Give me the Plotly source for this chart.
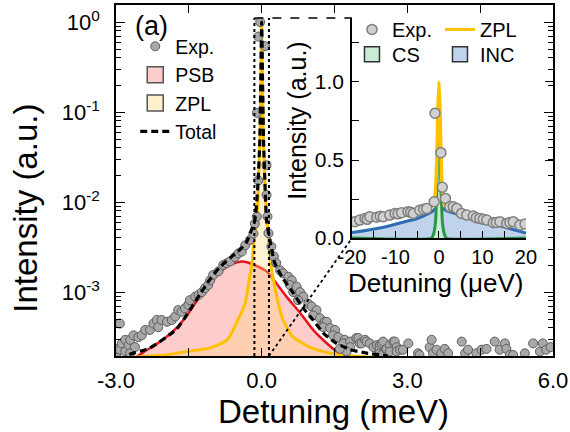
import plotly.graph_objects as go

# ---------------- main panel data (Detuning in meV, intensity a.u.) ----------------
psb_x = [-2.75, -2.44, -2.09, -1.72, -1.54, -1.34, -1.06, -0.73, -0.51, -0.38, -0.24,
         0.10, 0.27, 0.51, 0.79, 1.06, 1.34, 1.54, 1.75, 1.95]
psb_y = [1.66e-4, 2.14e-4, 2.82e-4, 4.17e-4, 5.5e-4, 7.9e-4, 1.26e-3, 1.9e-3, 2.14e-3, 2.19e-3, 2.09e-3,
         1.7e-3, 1.32e-3, 8.9e-4, 5.9e-4, 3.8e-4, 2.7e-4, 2.2e-4, 1.9e-4, 1.6e-4]

zpl_x = [-2.6, -2.0, -1.5, -1.06, -0.71, -0.49, -0.34, -0.28, -0.20, -0.16, -0.10, -0.06, -0.03, -0.015,
         0.0, 0.015, 0.03, 0.06, 0.11, 0.21, 0.34, 0.44, 0.64, 0.99, 1.34, 1.68, 2.2, 3.0, 4.5, 6.0]
zpl_y = [1.9e-4, 2.0e-4, 2.2e-4, 2.4e-4, 2.95e-4, 4.9e-4, 7.6e-4, 1.15e-3, 2.1e-3, 3.8e-3, 6.3e-3, 0.02, 0.07, 0.25,
         1.0, 0.25, 0.07, 0.02, 6.3e-3, 1.74e-3, 7.6e-4, 4.9e-4, 3.2e-4, 2.45e-4, 2.14e-4, 2.0e-4, 1.9e-4, 1.85e-4, 1.85e-4, 1.85e-4]

tot_x = [-2.9, -2.75, -2.30, -1.75, -1.48, -1.27, -1.06, -0.86, -0.65, -0.45, -0.31, -0.21, -0.14, -0.08, -0.04,
         -0.015, 0.0, 0.015, 0.04, 0.07, 0.10, 0.17, 0.27, 0.44, 0.65, 0.86, 1.06, 1.27, 1.54, 1.82, 2.16, 2.6]
tot_y = [1.7e-4, 2.0e-4, 2.4e-4, 3.9e-4, 6.3e-4, 9.5e-4, 1.4e-3, 1.9e-3, 2.4e-3, 2.95e-3, 3.6e-3, 4.9e-3, 6.3e-3, 0.015, 0.045,
         0.3, 1.0, 0.3, 0.045, 0.015, 6.3e-3, 3.8e-3, 2.1e-3, 1.41e-3, 9.8e-4, 6.6e-4, 4.9e-4, 3.5e-4, 2.7e-4, 2.3e-4, 2.1e-4, 1.95e-4]

exp_x = [-3.0, -2.98, -2.92, -2.92, -2.88, -2.81, -2.81, -2.74, -2.71, -2.71, -2.64, -2.61, -2.54, -2.47, -2.40,
         -2.30, -2.23, -2.16, -2.13, -2.06, -1.95, -1.85, -1.78, -1.72, -1.65, -1.58, -1.51, -1.48, -1.37, -1.30,
         -1.23, -1.17, -1.10, -1.06, -1.00, -0.89, -0.79, -0.72, -0.65, -0.55, -0.48, -0.41, -0.34, -0.24, -0.17,
         -0.14, -0.10, -0.10, -0.07, -0.07, -0.03, 0.07, 0.10, 0.10, 0.12,
         0.14, 0.20, 0.25, 0.30, 0.38, 0.44, 0.55, 0.62, 0.58, 0.65, 0.72, 0.79, 0.86, 0.75, 0.96, 1.03, 1.13,
         1.06, 1.20, 1.27, 1.30, 1.34, 1.27, 1.41, 1.51, 1.47, 1.58, 1.71, 1.68, 1.82, 1.82, 1.75, 1.61, 1.95,
         1.99, 2.02, 2.06, 2.13, 2.16, 2.23, 2.30, 2.37, 2.43, 2.43, 2.43, 2.47, 2.47, 2.50, 2.57, 2.57, 2.64,
         2.64, 2.71, 2.74, 2.78, 2.78, 2.85, 2.91, 3.02, 3.22, 3.25, 3.46, 3.50, 3.53, 3.60, 3.70, 3.77, 3.84,
         4.12, 4.19, 4.25, 4.42, 4.53, 4.63, 4.80, 4.90, 5.01, 5.04, 5.11, 5.18, 5.42, 5.59, 5.73, 5.79, 5.86, 5.95]
exp_y = [2.0e-4, 2.34e-4, 2.29e-4, 4.47e-4, 2.69e-4, 2.95e-4, 2.19e-4, 2.57e-4, 2.95e-4, 2.09e-4, 3.31e-4, 2.45e-4, 3.16e-4, 3.31e-4, 3.8e-4,
         3.8e-4, 4.47e-4, 4.9e-4, 4.07e-4, 4.9e-4, 4.68e-4, 4.9e-4, 5.37e-4, 6.31e-4, 6.03e-4, 6.61e-4, 7.24e-4, 8.13e-4, 8.91e-4, 9.33e-4,
         1.0e-3, 1.1e-3, 1.2e-3, 1.35e-3, 1.55e-3, 1.7e-3, 2.0e-3, 2.09e-3, 2.19e-3, 2.45e-3, 2.69e-3, 2.82e-3, 3.31e-3, 3.8e-3, 4.47e-3,
         5.75e-3, 6.9e-3, 0.098, 0.0174, 0.69, 1.0, 0.54, 0.012, 0.0257, 6.9e-3,
         4.5e-3, 3.2e-3, 2.5e-3, 2.1e-3, 1.74e-3, 1.62e-3, 1.48e-3, 1.35e-3, 1.2e-3, 1.0e-3, 1.15e-3, 1.0e-3, 8.91e-4, 8.13e-4, 7.41e-4, 6.92e-4, 6.31e-4,
         5.5e-4, 5.13e-4, 4.47e-4, 4.68e-4, 4.68e-4, 4.07e-4, 3.98e-4, 3.8e-4, 3.31e-4, 3.16e-4, 2.95e-4, 2.69e-4, 2.82e-4, 2.45e-4, 2.19e-4, 2.34e-4, 3.09e-4,
         3.09e-4, 2.69e-4, 2.69e-4, 2.95e-4, 2.82e-4, 2.69e-4, 2.45e-4, 2.57e-4, 2.57e-4, 2.29e-4, 2.09e-4, 2.69e-4, 2.0e-4, 2.82e-4, 2.29e-4, 2.34e-4, 2.57e-4,
         2.19e-4, 2.82e-4, 2.82e-4, 2.45e-4, 2.19e-4, 2.29e-4, 2.29e-4, 2.69e-4, 2.09e-4, 2.0e-4, 2.45e-4, 2.95e-4, 2.09e-4, 2.29e-4, 2.09e-4, 2.34e-4, 2.09e-4,
         2.82e-4, 2.09e-4, 2.29e-4, 2.09e-4, 2.29e-4, 2.34e-4, 2.82e-4, 2.29e-4, 2.69e-4, 2.34e-4, 2.0e-4, 2.0e-4, 2.09e-4, 2.69e-4, 2.19e-4, 2.69e-4, 2.29e-4, 2.45e-4]

# ---------------- inset data (Detuning in ueV) ----------------
ins_exp_x = [-19.3, -18.2, -17.0, -16.5, -15.9, -14.3, -13.5, -12.8, -11.3, -10.1, -9.4, -8.6, -7.1, -6.5, -5.9,
             -4.4, -3.5, -2.8, -1.1, -0.9, 0.45, 0.77, 1.5, 2.5, 3.3, 4.1, 5.2, 6.4, 7.9, 8.6, 9.4, 10.2,
             11.0, 12.5, 13.2, 14.0, 15.6, 16.3, 17.1, 18.6, 19.8]
ins_exp_y = [0.105, 0.115, 0.126, 0.12, 0.137, 0.133, 0.14, 0.137, 0.147, 0.158, 0.155, 0.162, 0.169, 0.165, 0.158,
             0.179, 0.185, 0.19, 0.233, 0.80, 0.547, 0.325, 0.254, 0.20, 0.2, 0.19, 0.158, 0.147, 0.141, 0.13, 0.126, 0.12,
             0.115, 0.098, 0.1, 0.105, 0.094, 0.1, 0.105, 0.083, 0.09]

ins_zpl_x = [-20, -13.6, -7.4, -5.0, -2.8, -1.2, -0.8, -0.5, -0.25, 0, 0.25, 0.5, 0.8, 1.2, 2.0, 4.8, 9.4, 14, 20]
ins_zpl_y = [0.088, 0.12, 0.15, 0.168, 0.19, 0.215, 0.3, 0.5, 0.82, 1.0, 0.82, 0.5, 0.3, 0.215, 0.205, 0.17, 0.13, 0.105, 0.08]

ins_inc_x = [-20, -13, -7.4, -5.0, -1.7, 0, 1.8, 4.8, 10, 14, 20]
ins_inc_y = [0.035, 0.068, 0.108, 0.125, 0.168, 0.2, 0.175, 0.15, 0.11, 0.078, 0.032]

ins_cs_x = [-20, -1.7, -1.2, -0.8, -0.5, -0.25, 0, 0.25, 0.5, 0.8, 1.2, 1.7, 20]
ins_cs_y = [0, 0, 0.03, 0.1, 0.3, 0.6, 0.78, 0.6, 0.3, 0.1, 0.03, 0, 0]

main_xticks = [-3, 0, 3, 6]
main_xticktext = ["-3.0", "0.0", "3.0", "6.0"]
main_yticks = [1e-3, 1e-2, 1e-1, 1]
main_yticktext = ["10<sup>-3</sup>", "10<sup>-2</sup>", "10<sup>-1</sup>", "10<sup>0</sup>"]
ins_xticks = [-20, -10, 0, 10, 20]
ins_xticktext = ["-20", "-10", "0", "10", "20"]
ins_yticks = [0, 0.5, 1.0]
ins_yticktext = ["0.0", "0.5", "1.0"]

# ---------------- style / layout constants ----------------
FONT = "Liberation Sans, Arial, sans-serif"
XR = [-3, 6]
YR_LOG = [-3.71, 0.19]
INSET_X = [0.54, 0.938]
INSET_Y = [0.336, 0.963]
INSET_YR = [0, 1.41]
ZB = 0.15  # half width of zoom box (meV)

RED = "#e8141c"
PINK = "#ffcccc"
GOLD = "#ffc000"
ZPLFILL = "rgba(255,215,130,0.34)"
BLUE = "#2e6db4"
BLUEFILL = "#bfd4ec"
GREEN = "#2a9446"
GREENFILL = "#c9ecd6"

fig = go.Figure()

# main panel
fig.add_trace(go.Scatter(x=psb_x, y=psb_y, mode="lines", line=dict(color=RED, width=2.5, shape="spline", smoothing=0.8),
                         fill="tozeroy", fillcolor=PINK, showlegend=False, xaxis="x", yaxis="y"))
fig.add_trace(go.Scatter(x=zpl_x, y=zpl_y, mode="lines", line=dict(color=GOLD, width=3, shape="spline", smoothing=0.6),
                         fill="tozeroy", fillcolor=ZPLFILL, showlegend=False, xaxis="x", yaxis="y"))
fig.add_trace(go.Scatter(x=exp_x, y=exp_y, mode="markers", name="Exp.", legend="legend",
                         marker=dict(size=9, color="#a8a8a8", line=dict(color="#5e5e5e", width=1)),
                         xaxis="x", yaxis="y"))
fig.add_trace(go.Scatter(x=tot_x, y=tot_y, mode="lines", name="Total", showlegend=False,
                         line=dict(color="black", width=3.2, dash="7px,4px", shape="spline", smoothing=0.6),
                         xaxis="x", yaxis="y"))
# legend swatches for main
fig.add_trace(go.Scatter(x=[None], y=[None], mode="markers", name="PSB", legend="legend",
                         marker=dict(symbol="square", size=20, color=PINK, line=dict(color="#555555", width=1.5)),
                         xaxis="x", yaxis="y"))
fig.add_trace(go.Scatter(x=[None], y=[None], mode="markers", name="ZPL", legend="legend",
                         marker=dict(symbol="square", size=20, color="#fff0cc", line=dict(color="#555555", width=1.5)),
                         xaxis="x", yaxis="y"))
fig.add_trace(go.Scatter(x=[None], y=[None], mode="lines", name="Total", legend="legend",
                         line=dict(color="black", width=3.2, dash="7px,4px"), xaxis="x", yaxis="y"))

# inset
fig.add_trace(go.Scatter(x=ins_inc_x, y=ins_inc_y, mode="lines", line=dict(color=BLUE, width=3, shape="spline"),
                         fill="tozeroy", fillcolor=BLUEFILL, showlegend=False, xaxis="x2", yaxis="y2"))
fig.add_trace(go.Scatter(x=ins_cs_x, y=ins_cs_y, mode="lines", line=dict(color=GREEN, width=3, shape="spline", smoothing=0.5),
                         fill="tozeroy", fillcolor=GREENFILL, showlegend=False, xaxis="x2", yaxis="y2"))
fig.add_trace(go.Scatter(x=ins_zpl_x, y=ins_zpl_y, mode="lines", name="ZPL", showlegend=False,
                         line=dict(color=GOLD, width=3.5, shape="spline", smoothing=0.5),
                         xaxis="x2", yaxis="y2"))
fig.add_trace(go.Scatter(x=ins_exp_x, y=ins_exp_y, mode="markers", name="Exp.", legend="legend2",
                         marker=dict(size=10, color="#d0d0d0", line=dict(color="#808080", width=1.5)),
                         xaxis="x2", yaxis="y2"))
fig.add_trace(go.Scatter(x=[None], y=[None], mode="lines", name="ZPL", legend="legend2",
                         line=dict(color=GOLD, width=3), xaxis="x2", yaxis="y2"))
fig.add_trace(go.Scatter(x=[None], y=[None], mode="markers", name="CS", legend="legend3",
                         marker=dict(symbol="square", size=15, color=GREENFILL, line=dict(color="#333333", width=1.5)),
                         xaxis="x2", yaxis="y2"))
fig.add_trace(go.Scatter(x=[None], y=[None], mode="markers", name="INC", legend="legend3",
                         marker=dict(symbol="square", size=15, color=BLUEFILL, line=dict(color="#333333", width=1.5)),
                         xaxis="x2", yaxis="y2"))
# helper (empty) trace so the inset's intensity ticks are repeated on the right frame
fig.add_trace(go.Scatter(x=[None], y=[None], showlegend=False, hoverinfo="skip", xaxis="x2", yaxis="y3"))

axis_common = dict(showgrid=False, zeroline=False, showline=True, linecolor="black", linewidth=1.5,
                   ticks="inside", tickcolor="black", tickwidth=1.2)


def paper_x(v):
    return (v - XR[0]) / (XR[1] - XR[0])


shapes = [
    dict(type="line", xref="x", yref="paper", x0=-ZB, x1=-ZB, y0=0, y1=INSET_Y[1],
         line=dict(color="black", width=2, dash="dot")),
    dict(type="line", xref="x", yref="paper", x0=ZB, x1=ZB, y0=0, y1=INSET_Y[1],
         line=dict(color="black", width=2, dash="dot")),
    dict(type="line", xref="paper", yref="paper", x0=paper_x(-ZB), x1=INSET_X[0], y0=INSET_Y[1], y1=INSET_Y[1],
         line=dict(color="black", width=1.5, dash="dash")),
    dict(type="line", xref="paper", yref="paper", x0=paper_x(ZB), x1=INSET_X[0], y0=0, y1=INSET_Y[0],
         line=dict(color="black", width=1.8, dash="dot")),
]

annotations = [
    dict(text="(a)", xref="paper", yref="paper", x=0.04, y=0.99, xanchor="left", yanchor="top",
         showarrow=False, font=dict(size=27)),
    dict(text="Detuning (meV)", xref="paper", yref="paper", x=0.497, y=-0.157, xanchor="center", yanchor="middle",
         showarrow=False, font=dict(size=33)),
    dict(text="Intensity (a.u.)", xref="paper", yref="paper", x=-0.208, y=0.42, xanchor="center", yanchor="middle",
         textangle=-90, showarrow=False, font=dict(size=33)),
    dict(text="Detuning (μeV)", xref="paper", yref="paper", x=0.732, y=0.208, xanchor="center", yanchor="middle",
         showarrow=False, font=dict(size=26)),
    dict(text="Intensity (a.u.)", xref="paper", yref="paper", x=0.414, y=0.67, xanchor="center", yanchor="middle",
         textangle=-90, showarrow=False, font=dict(size=25)),
]

fig.update_layout(
    width=570, height=432,
    margin=dict(l=116, r=17, t=5, b=76, autoexpand=False),
    paper_bgcolor="white", plot_bgcolor="rgba(0,0,0,0)",
    font=dict(family=FONT, color="black", size=20),
    xaxis=dict(**axis_common, domain=[0, 1], range=XR, tickvals=main_xticks, ticktext=main_xticktext,
               ticklen=8, mirror="ticks", tickfont=dict(size=22), ticklabelstandoff=4,
               minor=dict(dtick=1.5, tick0=-3, ticks="inside", ticklen=8, tickcolor="black"), anchor="y"),
    yaxis=dict(**axis_common, type="log", domain=[0, 1], range=YR_LOG, tickvals=main_yticks, ticktext=main_yticktext,
               ticklen=9, mirror="ticks", tickfont=dict(size=22), ticklabelstandoff=10,
               minor=dict(tickvals=[m * 10 ** e for e in (-4, -3, -2, -1, 0) for m in range(2, 10)],
                          ticks="inside", ticklen=5, tickcolor="black"), anchor="x"),
    xaxis2=dict(**axis_common, domain=INSET_X, range=[-20, 20], tickvals=ins_xticks, ticktext=ins_xticktext,
                ticklen=7, tickfont=dict(size=20), anchor="y2", ticklabelstandoff=0,
                minor=dict(dtick=5, tick0=0, ticks="inside", ticklen=7, tickcolor="black")),
    yaxis2=dict(**axis_common, domain=INSET_Y, range=INSET_YR, tickvals=ins_yticks, ticktext=ins_yticktext,
                ticklen=7, tickfont=dict(size=21), anchor="x2", ticklabelstandoff=2,
                minor=dict(dtick=0.25, tick0=0, ticks="inside", ticklen=7, tickcolor="black")),
    yaxis3=dict(showgrid=False, zeroline=False, showline=False, overlaying="y2", anchor="free", position=1.0,
                side="right", range=INSET_YR, tickvals=ins_yticks, showticklabels=False, automargin=False,
                ticks="inside", ticklen=8, tickcolor="black", tickwidth=1.2,
                minor=dict(dtick=0.25, tick0=0, ticks="inside", ticklen=5, tickcolor="black")),
    legend=dict(x=0.044, y=0.937, xanchor="left", yanchor="top", bgcolor="rgba(0,0,0,0)",
                font=dict(size=19.5), tracegroupgap=0),
    legend2=dict(x=INSET_X[0], y=0.986, xanchor="left", yanchor="top", orientation="h",
                 bgcolor="rgba(0,0,0,0)", font=dict(size=20), entrywidth=43),
    legend3=dict(x=INSET_X[0], y=0.915, xanchor="left", yanchor="top", orientation="h",
                 bgcolor="rgba(0,0,0,0)", font=dict(size=20), entrywidth=43),
    shapes=shapes,
    annotations=annotations,
)

fig.write_html("out.html")
